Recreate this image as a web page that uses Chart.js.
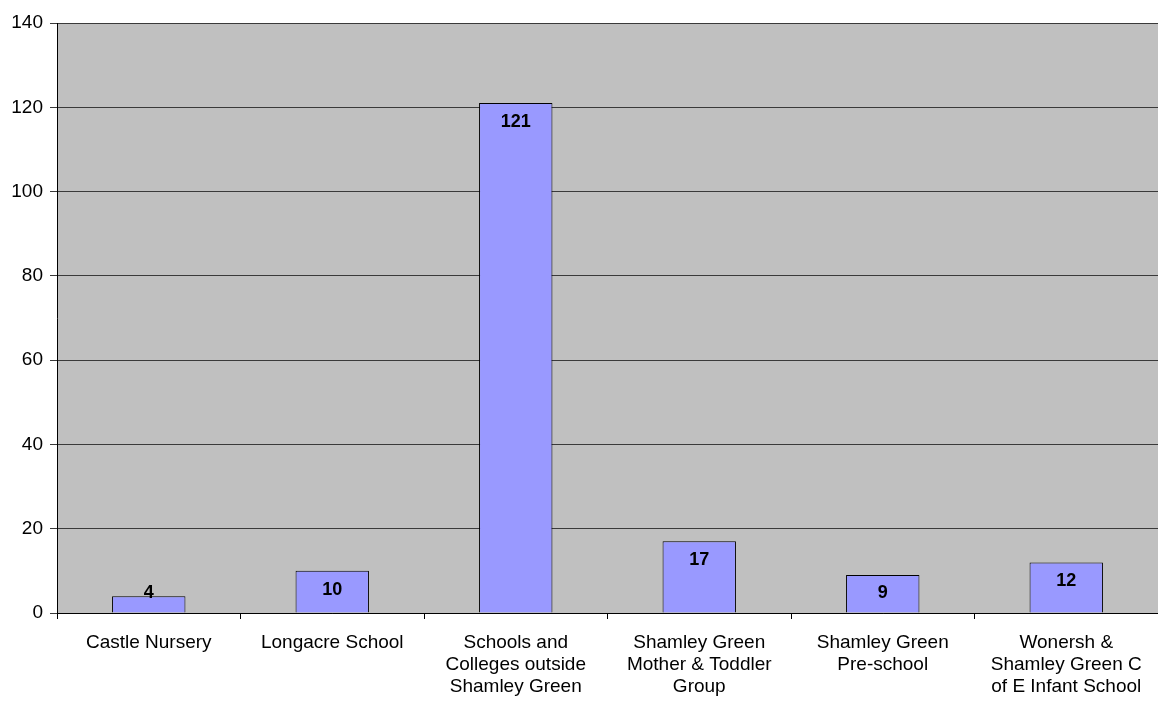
<!DOCTYPE html>
<html>
<head>
<meta charset="utf-8">
<script src="https://cdn.jsdelivr.net/npm/chart.js@4"></script>
<style>
  html, body { margin: 0; padding: 0; background: #fff; }
  #wrap { width: 1158px; height: 701px; }
</style>
</head>
<body>
<div id="wrap"><canvas id="schoolChart"></canvas></div>
<script>
const categories = [
  'Castle Nursery',
  'Longacre School',
  ['Schools and', 'Colleges outside', 'Shamley Green'],
  ['Shamley Green', 'Mother & Toddler', 'Group'],
  ['Shamley Green', 'Pre-school'],
  ['Wonersh &', 'Shamley Green C', 'of E Infant School']
];
const counts = [4, 10, 121, 17, 9, 12];
const yMax = 140;
const yStep = 20;

// grey plot background, like the old spreadsheet chart
const plotBackground = {
  id: 'plotBackground',
  beforeDraw(chart) {
    const { ctx, chartArea: a } = chart;
    ctx.save();
    ctx.fillStyle = '#C0C0C0';
    ctx.fillRect(a.left, a.top, a.right - a.left, a.bottom - a.top);
    ctx.restore();
  }
};

// bold value labels sitting just inside the bar tops
const valueLabels = {
  id: 'valueLabels',
  afterDatasetsDraw(chart) {
    const { ctx } = chart;
    const meta = chart.getDatasetMeta(0);
    ctx.save();
    ctx.font = 'bold 18px "Liberation Sans", Arial, sans-serif';
    ctx.fillStyle = '#000';
    ctx.textAlign = 'center';
    ctx.textBaseline = 'middle';
    meta.data.forEach((bar, i) => {
      const y = Math.min(bar.y + 19, bar.base - 19);
      ctx.fillText(String(counts[i]), bar.x, y);
    });
    ctx.restore();
  }
};

Chart.defaults.font.family = '"Liberation Sans", Arial, sans-serif';
Chart.defaults.font.size = 19;
Chart.defaults.color = '#000';

new Chart(document.getElementById('schoolChart'), {
  type: 'bar',
  data: {
    labels: categories,
    datasets: [{
      data: counts,
      backgroundColor: '#9999FF',
      borderColor: '#000',
      borderWidth: 1,
      categoryPercentage: 1,
      barPercentage: 0.4
    }]
  },
  options: {
    responsive: true, maintainAspectRatio: false, animation: false,
    layout: { padding: { top: 23, right: 0, bottom: 2, left: 0 } },
    plugins: { legend: { display: false }, tooltip: { enabled: false } },
    scales: {
      x: {
        offset: true,
        afterFit(scale) { scale.height = 86; },
        grid: { offset: true, drawOnChartArea: false, drawTicks: true, tickLength: 6, color: '#000' },
        border: { color: '#000', width: 1 },
        ticks: { maxRotation: 0, autoSkip: false, padding: 13, font: { size: 19, lineHeight: 1.16 } }
      },
      y: {
        min: 0, max: yMax,
        afterFit(scale) { scale.width = 57; },
        grid: { color: '#3a3a3a', lineWidth: 1, tickLength: 7 },
        border: { color: '#000', width: 1 },
        ticks: { stepSize: yStep, padding: 7, font: { size: 19 } }
      }
    }
  },
  plugins: [plotBackground, valueLabels]
});
</script>
</body>
</html>
